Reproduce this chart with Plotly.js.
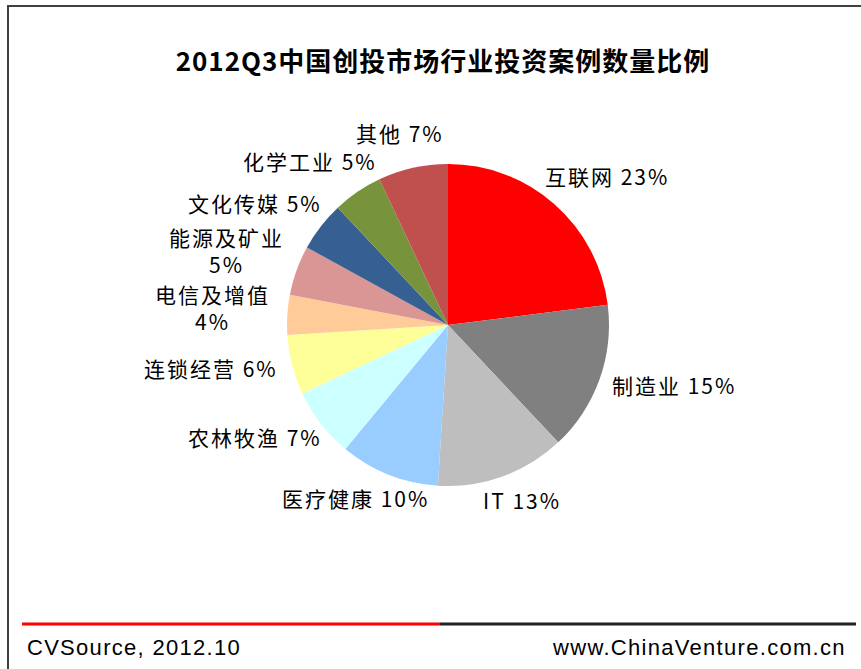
<!DOCTYPE html>
<html>
<head>
<meta charset="utf-8">
<script src="https://cdn.plot.ly/plotly-3.0.1.min.js"></script>
<style>
  html, body { margin: 0; padding: 0; background: #fff; }
  #chart { width: 861px; height: 669px; }
  #chart .annotation-text { letter-spacing: 2px; }
  #chart .annotation[data-index="11"] .annotation-text,
  #chart .annotation[data-index="12"] .annotation-text { letter-spacing: 1.3px; }
  #chart .gtitle { letter-spacing: 1px; }
</style>
</head>
<body>
<div id="chart"></div>
<script>
// ---- data ----
const categories = ['互联网', '制造业', 'IT', '医疗健康', '农林牧渔', '连锁经营', '电信及增值', '能源及矿业', '文化传媒', '化学工业', '其他'];
const shares = [23, 15, 13, 10, 7, 6, 4, 5, 5, 5, 7];
const sliceColors = ['#FF0000', '#808080', '#BEBEBE', '#99CCFF', '#CCFFFF', '#FFFF99', '#FFCC99', '#D99694', '#376092', '#77933C', '#C0504D'];
const wrapLabels = ['电信及增值', '能源及矿业'];
const chartTitle = '2012Q3中国创投市场行业投资案例数量比例';
const sourceText = 'CVSource, 2012.10';
const siteText = 'www.ChinaVenture.com.cn';

// ---- layout geometry ----
const W = 861, H = 669;
const CX = 448, CY = 325, R = 161;
const LABEL_R = 178;
const LABEL_CY = CY - 5;
const FONT = '"Noto Sans CJK SC", "Liberation Sans", sans-serif';
const LABEL_SIZE = 21;
const LABEL_SPACING = 2;

const px = x => x / W;
const py = y => 1 - y / H;

const ctx = document.createElement('canvas').getContext('2d');
ctx.font = LABEL_SIZE + 'px "Noto Sans CJK SC"';
const measure = s => ctx.measureText(s).width + LABEL_SPACING * s.length;

const total = shares.reduce((a, b) => a + b, 0);
let cum = 0;
const annotations = [];
categories.forEach((cat, i) => {
  const v = shares[i];
  const f = (cum + v / 2) / total;
  cum += v;
  const th = 2 * Math.PI * f;
  const dx = Math.sin(th), dy = -Math.cos(th);
  const pct = v + '%';
  const wrap = wrapLabels.includes(cat);
  const text = wrap ? cat + '<br>' + pct : cat + ' ' + pct;
  const w = wrap ? measure(cat) : measure(cat + ' ' + pct);
  const h = wrap ? 2 * LABEL_SIZE * 1.3 : LABEL_SIZE * 1.3;
  const cx = CX + dx * LABEL_R + dx * w / 2;
  const cy = LABEL_CY + dy * LABEL_R + dy * h / 2;
  annotations.push({
    x: px(cx), y: py(cy), xref: 'paper', yref: 'paper',
    text: text, showarrow: false, xanchor: 'center', yanchor: 'middle',
    align: 'center',
    font: { family: FONT, size: LABEL_SIZE, color: '#000' }
  });
});

annotations.push({
  x: px(36), y: py(647), xref: 'paper', yref: 'paper', text: sourceText,
  showarrow: false, xanchor: 'left', yanchor: 'middle',
  font: { family: '"Liberation Sans", Arial, sans-serif', size: 22, color: '#000' }
});
annotations.push({
  x: px(833), y: py(647), xref: 'paper', yref: 'paper', text: siteText,
  showarrow: false, xanchor: 'right', yanchor: 'middle',
  font: { family: '"Liberation Sans", Arial, sans-serif', size: 22, color: '#000' }
});

const trace = {
  type: 'pie',
  labels: categories,
  values: shares,
  sort: false,
  direction: 'clockwise',
  rotation: 0,
  textinfo: 'none',
  hoverinfo: 'label+percent',
  marker: { colors: sliceColors, line: { width: 0 } },
  domain: { x: [px(CX - R), px(CX + R)], y: [py(CY + R), py(CY - R)] },
  showlegend: false
};

const shapes = [
  { type: 'line', xref: 'paper', yref: 'paper', x0: px(8), x1: px(8), y0: py(H), y1: py(6), line: { color: '#404040', width: 2 } },
  { type: 'line', xref: 'paper', yref: 'paper', x0: px(7), x1: px(W), y0: py(6), y1: py(6), line: { color: '#404040', width: 2 } },
  { type: 'line', xref: 'paper', yref: 'paper', x0: px(22), x1: px(440), y0: py(624), y1: py(624), line: { color: '#FF0000', width: 3 } },
  { type: 'line', xref: 'paper', yref: 'paper', x0: px(440), x1: px(856), y0: py(624), y1: py(624), line: { color: '#222222', width: 3 } }
];

const layout = {
  width: W, height: H,
  margin: { l: 0, r: 0, t: 0, b: 0 },
  paper_bgcolor: '#FFFFFF',
  title: {
    text: '<b>' + chartTitle + '</b>',
    x: px(443), xanchor: 'center', y: py(62), yanchor: 'middle',
    font: { family: FONT, size: 26, color: '#000' }
  },
  annotations: annotations,
  shapes: shapes,
  showlegend: false
};

Plotly.newPlot('chart', [trace], layout, { displayModeBar: false, staticPlot: true });
</script>
</body>
</html>
